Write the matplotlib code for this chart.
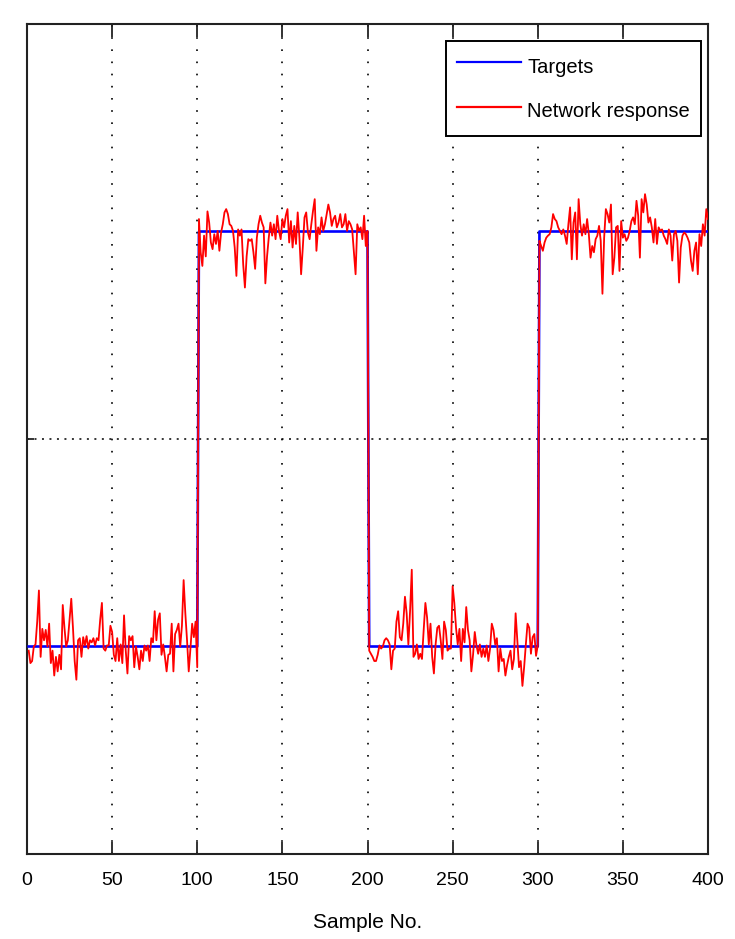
import numpy as np
import matplotlib
matplotlib.use("Agg")
import matplotlib.pyplot as plt

# ---- data -----------------------------------------------------------------
# target level of each block of 100 samples
target_levels = [-1.0, 1.0, -1.0, 1.0]
block_length = 100

# network output error (response - target) for each block
error_block1 = [
    -0.02, -0.08, -0.07, 0.0, 0.01, 0.12, 0.27, -0.05, 0.085, 0.03,
    0.08, 0.0, 0.11, -0.08, -0.02, -0.14, -0.05, -0.12, -0.04, -0.11,
    0.20, 0.09, 0.0, 0.03, 0.13, 0.23, 0.09, -0.07, -0.16, 0.03,
    0.04, -0.05, 0.045, 0.005, 0.05, -0.01, 0.03, 0.02, 0.04, 0.005,
    0.04, 0.03, 0.13, 0.21, -0.01, -0.02, 0.005, 0.005, 0.10, 0.07,
    -0.04, -0.07, 0.04, -0.07, 0.01, -0.08, 0.15, -0.02, -0.13, 0.05,
    0.03, 0.05, -0.10, 0.0, -0.05, -0.11, -0.02, -0.07, 0.005, -0.02,
    0.005, -0.07, 0.04, 0.02, 0.17, 0.03, 0.13, 0.16, -0.04, 0.01,
    -0.05, -0.12, -0.04, -0.035, 0.11, -0.12, 0.06, 0.08, 0.11, 0.0,
    0.10, 0.32, 0.16, 0.03, -0.12, -0.01, 0.11, 0.045, 0.12, -0.10,
]
error_block2 = [
    0.06, -0.10, -0.166, -0.02, -0.12, 0.097, 0.043, -0.053, -0.085, -0.013,
    -0.06, 0.003, -0.093, -0.005, 0.035, 0.092, 0.108, 0.084, 0.035, 0.027,
    0.003, -0.077, -0.214, 0.01, -0.02, 0.01, -0.16, -0.27, -0.12, -0.037,
    -0.045, -0.037, -0.10, -0.18, -0.03, 0.035, 0.076, 0.043, 0.02, -0.25,
    -0.12, -0.03, 0.043, -0.02, 0.035, -0.037, 0.076, 0.003, -0.037, 0.06,
    0.02, 0.076, 0.108, -0.053, 0.05, -0.077, 0.027, -0.06, 0.092, -0.03,
    -0.206, -0.077, 0.068, 0.092, -0.005, -0.037, 0.035, 0.10, 0.156, -0.093,
    0.02, -0.013, 0.068, 0.003, 0.035, 0.084, 0.13, 0.092, 0.027, 0.06,
    0.076, 0.02, 0.043, 0.084, 0.02, 0.035, 0.084, 0.003, 0.05, 0.035,
    0.01, -0.10, -0.206, 0.035, 0.003, 0.02, -0.037, 0.076, -0.07, 0.003,
]
error_block3 = [
    -0.02, -0.035, -0.05, -0.07, -0.07, -0.04, 0.005, -0.01, 0.0, 0.03,
    0.04, 0.03, 0.01, -0.11, -0.02, -0.01, 0.12, 0.17, 0.045, 0.03,
    0.11, 0.24, 0.16, 0.01, 0.17, 0.37, -0.05, -0.035, 0.01, -0.06,
    -0.035, -0.06, 0.08, 0.21, 0.14, 0.01, 0.11, -0.05, -0.13, 0.01,
    0.09, 0.10, 0.03, -0.06, 0.12, 0.08, -0.02, -0.01, -0.01, 0.29,
    0.21, 0.09, 0.01, 0.085, -0.07, 0.085, 0.02, 0.19, 0.08, 0.03,
    -0.12, -0.04, 0.07, 0.005, -0.035, 0.01, -0.05, -0.01, -0.05, 0.005,
    -0.07, -0.01, 0.11, 0.08, 0.01, 0.04, -0.12, -0.01, -0.07, -0.06,
    -0.14, -0.09, -0.05, -0.02, -0.11, -0.06, 0.16, 0.03, -0.10, -0.07,
    -0.19, -0.10, 0.01, 0.11, 0.09, -0.035, 0.045, 0.06, -0.045, 0.005,
]
error_block4 = [
    -0.045, -0.07, -0.093, -0.053, -0.03, -0.02, -0.013, 0.02, 0.084, 0.06,
    0.05, 0.02, 0.003, -0.013, 0.01, -0.02, -0.06, 0.035, 0.116, -0.134,
    0.043, 0.092, -0.134, 0.156, 0.035, -0.02, 0.035, -0.013, 0.06, -0.013,
    -0.126, -0.07, -0.10, -0.037, -0.02, 0.027, -0.045, -0.30, -0.03, 0.108,
    0.084, 0.043, 0.13, -0.206, -0.126, 0.02, 0.027, -0.19, 0.05, -0.03,
    -0.013, -0.045, -0.03, 0.003, 0.05, 0.068, 0.035, 0.148, 0.076, -0.126,
    0.156, 0.092, 0.18, 0.13, 0.043, 0.068, 0.02, -0.053, 0.06, -0.06,
    0.02, 0.003, 0.01, -0.02, -0.037, -0.06, 0.01, -0.02, -0.14, -0.013,
    0.003, -0.045, -0.246, -0.077, -0.02, -0.005, -0.013, -0.03, -0.053, -0.14,
    -0.19, -0.093, -0.053, -0.206, -0.013, -0.07, 0.035, -0.02, 0.108, 0.06,
]

x_ticks = [0, 50, 100, 150, 200, 250, 300, 350, 400]
y_ticks = [-2, 0, 2]
x_label = "Sample No."
legend_labels = ["Targets", "Network response"]

# ---- derived series --------------------------------------------------------
targets = np.repeat(target_levels, block_length)
errors = np.concatenate([error_block1, error_block2, error_block3, error_block4])
response = targets + errors
samples = np.arange(1, len(targets) + 1)

# ---- figure ----------------------------------------------------------------
plt.rcParams["font.family"] = ["Liberation Sans", "DejaVu Sans"]

fig = plt.figure(figsize=(7.35, 9.39), dpi=100)
ax = fig.add_axes([27 / 735, 1 - 854 / 939, 681 / 735, 830 / 939])

ax.plot(samples, targets, color=(0, 0, 1), lw=1.9, label=legend_labels[0], zorder=3)
ax.plot(samples, response, color=(1, 0, 0), lw=1.3, label=legend_labels[1], zorder=4)

ax.set_xlim(0, 400)
ax.set_ylim(-2, 2)
ax.set_xticks(x_ticks)
ax.set_xticklabels([str(t) for t in x_ticks])
ax.set_yticks(y_ticks)
ax.set_yticklabels([])

# dotted grid: vertical lines have sparser dots than the horizontal one
ax.xaxis.grid(True, color="black", linestyle=(0, (1, 6.3)), linewidth=1.2, zorder=1)
ax.yaxis.grid(True, color="black", linestyle=(0, (1.3, 3.6)), linewidth=1.1, zorder=1)

ax.tick_params(axis="both", direction="in", top=True, right=True,
               color="#222222", width=1.3)
ax.tick_params(axis="x", length=9, labelsize=14, pad=13)
ax.tick_params(axis="y", length=5)

for sp in ax.spines.values():
    sp.set_linewidth(1.5)
    sp.set_color("#222222")

ax.set_xlabel(x_label, fontsize=15, labelpad=17)

leg = ax.legend(loc="upper right", bbox_to_anchor=(0.9897, 0.9795),
                fontsize=14.5, frameon=True, fancybox=False, framealpha=1,
                edgecolor="black", handlelength=3.2, handleheight=1.8,
                handletextpad=0.3, labelspacing=0.8, borderpad=0.55,
                borderaxespad=0.0)
leg.get_frame().set_linewidth(1.4)
for line in leg.get_lines():
    line.set_linewidth(1.6)

fig.savefig("out.png", dpi=100)
